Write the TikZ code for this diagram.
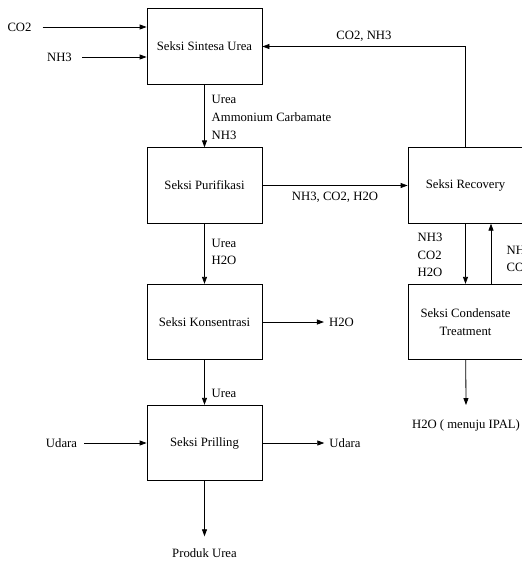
\documentclass[tikz,border=0pt]{standalone}
\usepackage{fontspec}
\setmainfont{Liberation Serif}
\usetikzlibrary{arrows.meta, positioning}
\newcommand{\flowfont}{\fontsize{12.7pt}{17.6pt}\selectfont}

\begin{document}
\begin{tikzpicture}[x=1pt, y=-1pt,
  unit/.style={rectangle, draw, line width=0.8pt, minimum width=115pt,
               minimum height=75.5pt, align=center, font=\flowfont},
  flow/.style={-{Triangle[length=7pt,width=5pt]}, line width=0.8pt},
  stream/.style={inner sep=0pt, font=\flowfont, align=left}
]
\useasboundingbox (0,0) rectangle (522,563);

% Process units
\node[unit] (sintesa) at (204.5,46.5) {Seksi Sintesa Urea};
\node[unit] (purifikasi) at (204.5,185.5) {Seksi Purifikasi};
\node[unit] (konsentrasi) at (204.5,322) {Seksi Konsentrasi};
\node[unit] (prilling) at (204.5,443) {Seksi Prilling};
\node[unit] (recovery) at (465.5,185.5) {Seksi Recovery};
\node[unit] (condensate) at (465.5,322) {Seksi Condensate\\Treatment};

% Feed streams
\node[stream] (co2in) at (19.5,27) {CO2};
\node[stream] (nh3in) at (59.5,57) {NH3};
\draw[flow] ([xshift=11pt]co2in.east) -- (co2in.east -| sintesa.west);
\draw[flow] ([xshift=10pt]nh3in.east) -- (nh3in.east -| sintesa.west);

\node[stream] (udarain) at (61.5,443) {Udara};
\draw[flow] ([xshift=7pt]udarain.east) -- (prilling.west);

% Main line
\draw[flow] (sintesa) -- (purifikasi);
\node[stream, anchor=west] (lblsintesa) at (211.5,117.5)
  {Urea\\Ammonium Carbamate\\NH3};

\draw[flow] (purifikasi) -- (konsentrasi);
\node[stream, anchor=west] (lblpurif) at (211.5,252) {Urea\\H2O};

\draw[flow] (konsentrasi) -- (prilling);
\node[stream, anchor=west] (lblkons) at (211.5,393) {Urea};

% Products
\node[stream] (h2oout) at (341.5,322) {H2O};
\draw[flow] (konsentrasi) -- ([xshift=-5pt]h2oout.west);

\node[stream] (udaraout) at (345,443) {Udara};
\draw[flow] (prilling) -- ([xshift=-5pt]udaraout.west);

\node[stream] (produk) at (204.5,553) {Produk Urea};
\draw[flow] (prilling) -- ([yshift=12pt]produk.north);

% Recovery loop
\draw[flow] (purifikasi) -- node[below=6pt, stream]{NH3, CO2, H2O} (recovery);
\draw[flow] (recovery.north) |- node[pos=0.75, above=5pt, stream]{CO2, NH3} (sintesa.east);

\draw[flow] (recovery.south) -- (condensate.north);
\node[stream, anchor=west] (lbldown) at (417.5,255) {NH3\\CO2\\H2O};
\draw[flow] ([xshift=25.5pt]condensate.north) -- ([xshift=25.5pt]recovery.south);
\node[stream, anchor=west] (lblup) at (506.5,259) {NH3\\CO2};

\node[stream] (ipal) at (466,425) {H2O ( menuju IPAL)};
\draw[flow] (condensate) -- ([yshift=14pt]ipal.north);

\end{tikzpicture}
\end{document}
